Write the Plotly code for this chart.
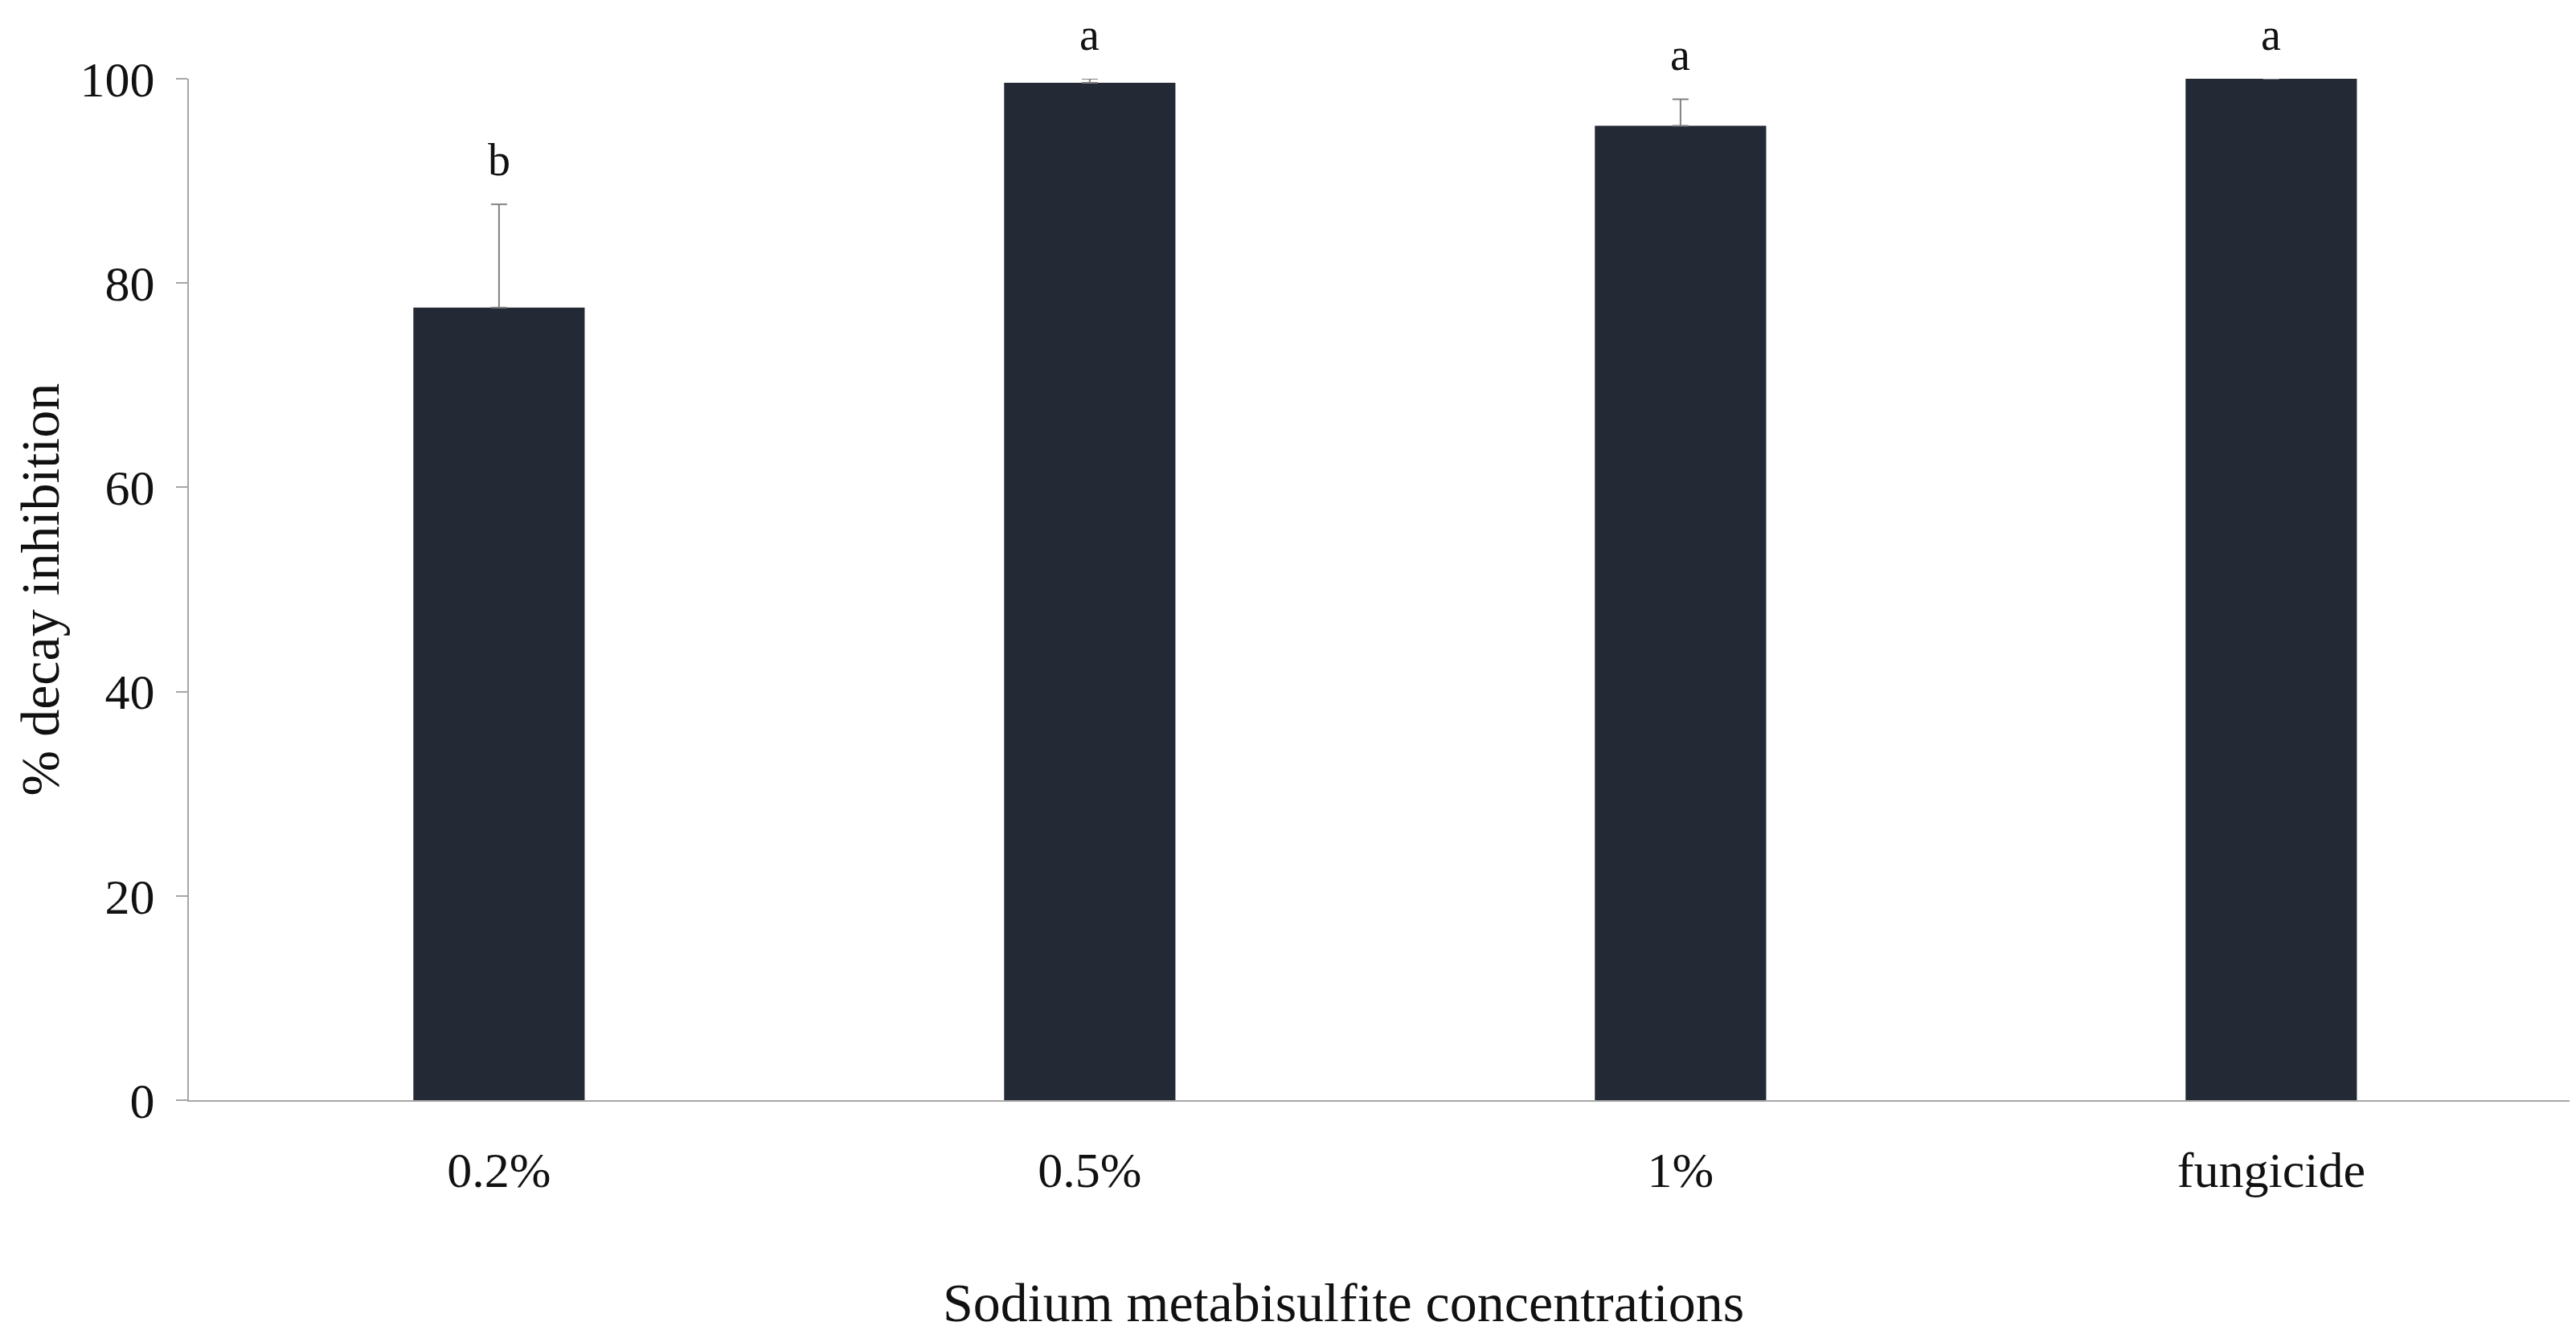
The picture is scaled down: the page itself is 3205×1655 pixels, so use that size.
import plotly.graph_objects as go

categories = ["0.2%", "0.5%", "1%", "fungicide"]
means = [77.6, 99.6, 95.4, 100.0]
errors = [10.1, 0.4, 2.6, 0.0]
letters = ["b", "a", "a", "a"]
y_ticks = [0, 20, 40, 60, 80, 100]

FONT = "Liberation Serif"
BAR = "#232a35"
AXIS = "#a6a6a6"
TXT = "#111111"

fig = go.Figure()
fig.add_trace(go.Bar(
    x=list(range(len(categories))), y=means, width=0.29,
    marker=dict(color=BAR, line=dict(width=0)),
    error_y=dict(type="data", array=errors, symmetric=False, arrayminus=[0]*len(errors),
                 color="#7f7f7f", thickness=2, width=10),
))

for i, (m, e, t) in enumerate(zip(means, errors, letters)):
    fig.add_annotation(x=i, y=m + e, text=t, showarrow=False, yanchor="bottom",
                       yshift=22, font=dict(family=FONT, size=56, color=TXT))

fig.add_annotation(x=0.485, y=0, xref="paper", yref="paper", yshift=-252, yanchor="middle",
                   text="Sodium metabisulfite concentrations", showarrow=False,
                   font=dict(family=FONT, size=68, color=TXT))

fig.add_annotation(x=0, y=0.5, xref="paper", yref="paper", xshift=-186, xanchor="center",
                   yanchor="middle", textangle=-90, text="% decay inhibition", showarrow=False,
                   font=dict(family=FONT, size=68, color=TXT))

fig.update_layout(
    width=3205, height=1655, plot_bgcolor="white", paper_bgcolor="white",
    margin=dict(l=227, r=16, t=90, b=294), showlegend=False,
    font=dict(family=FONT, size=62, color=TXT),
)
fig.update_xaxes(
    range=[-0.525, 3.505], tickvals=list(range(len(categories))), ticktext=categories,
    showline=True, linecolor=AXIS, linewidth=2, ticks="", showgrid=False, zeroline=False,
    ticklabelstandoff=32, tickfont=dict(family=FONT, size=62, color=TXT),
)
fig.update_yaxes(
    range=[0, 100], tickvals=y_ticks, showline=True, linecolor=AXIS, linewidth=2,
    ticks="outside", ticklen=14, tickcolor=AXIS, tickwidth=2, showgrid=False, zeroline=False,
    ticklabelstandoff=14, tickfont=dict(family=FONT, size=62, color=TXT),
)

fig.write_html("out.html")
